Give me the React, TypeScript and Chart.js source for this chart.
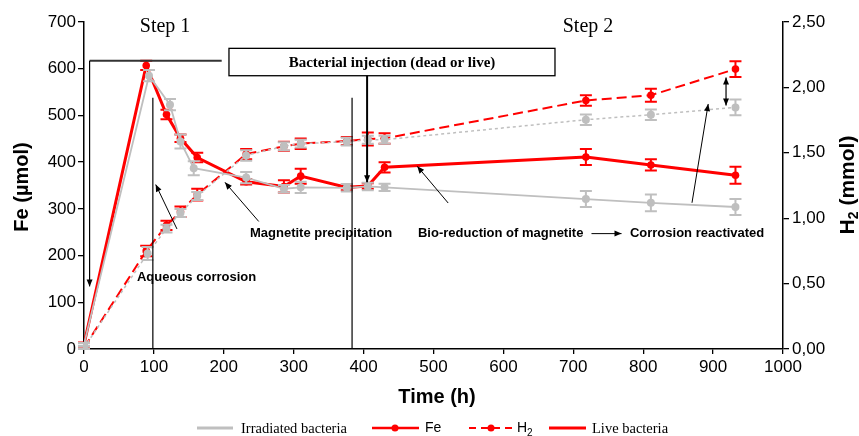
import React, { useEffect, useRef } from "react";
import { Chart, registerables } from "chart.js";
Chart.register(...registerables);

// ---- data ----
const liveTimes = [0, 89, 118, 138, 162, 232, 286, 310, 376, 406, 430, 718, 811, 932];
const liveFe = [10, 607, 502, 451, 410, 358, 348, 370, 346, 349, 389, 411, 394, 372];
const liveFeErr = [4, 10, 10, 8, 10, 6, 13, 16, 6, 6, 11, 17, 12, 18];
const liveH2 = [0.01, 0.75, 0.945, 1.05, 1.18, 1.49, 1.55, 1.57, 1.59, 1.605, 1.61, 1.9, 1.94, 2.14];
const liveH2Err = [0.01, 0.04, 0.035, 0.04, 0.045, 0.04, 0.035, 0.04, 0.03, 0.05, 0.04, 0.04, 0.05, 0.06];

const deadFeTimes = [0, 93, 123, 138, 157, 232, 286, 310, 376, 406, 430, 718, 811, 932];
const deadFe = [10, 585, 523, 444, 387, 367, 343, 346, 345, 348, 346, 321, 313, 304];
const deadFeErr = [3, 12, 12, 15, 15, 12, 8, 12, 8, 8, 8, 17, 18, 17];
const deadH2Times = [0, 91, 118, 138, 162, 232, 286, 310, 376, 406, 430, 718, 811, 932];
const deadH2 = [0.01, 0.73, 0.92, 1.04, 1.17, 1.48, 1.55, 1.57, 1.585, 1.6, 1.6, 1.753, 1.791, 1.847];
const deadH2Err = [0.01, 0.05, 0.03, 0.03, 0.03, 0.04, 0.03, 0.03, 0.03, 0.03, 0.03, 0.04, 0.04, 0.06];

const xTicks = { min: 0, max: 1000, step: 100 };
const feTicks = { min: 0, max: 700, step: 100 };
const h2Ticks = { min: 0, max: 2.5, step: 0.5 };

// annotation text / arrows in data coordinates (time h, Fe µmol)
const stepLabels = [
  { text: "Step 1", t: 116, fe: 690 },
  { text: "Step 2", t: 721, fe: 690 },
];
const noteLabels = [
  { text: "Aqueous corrosion", t: 75.8, fe: 153 },
  { text: "Magnetite precipitation", t: 237.5, fe: 247 },
  { text: "Bio-reduction of magnetite", t: 477.8, fe: 247 },
  { text: "Corrosion reactivated", t: 781, fe: 247 },
];
const noteArrows = [
  { t1: 133, f1: 257, t2: 102.6, f2: 352 },
  { t1: 250, f1: 273, t2: 201.7, f2: 356.7 },
  { t1: 521, f1: 312.5, t2: 476.8, f2: 391 },
  { t1: 869.8, f1: 313, t2: 893, f2: 524.5 },
  { t1: 726, f1: 247, t2: 769, f2: 247 },
];
const injectionBox = { t1: 207.4, t2: 673.8, f1: 585, f2: 643.6, text: "Bacterial injection (dead or live)" };
const injectionArrow = { t: 405, f1: 585, f2: 357 };
const bracket = { tEnd: 197, tStart: 8, fe: 617, feTip: 134 };
const stageLines = [
  { t: 98.5, top: 538 },
  { t: 383.5, top: 538 },
];
const diffArrow = { t: 918.5, f1: 581, f2: 521.5 };

const RED = "#ff0000";
const GRAY = "#bfbfbf";
const SANS = "'Liberation Sans', Arial, sans-serif";
const SERIF = "'Liberation Serif', 'Times New Roman', serif";

function arrowHead(ctx: CanvasRenderingContext2D, x1: number, y1: number, x2: number, y2: number, len = 7, half = 3) {
  const a = Math.atan2(y2 - y1, x2 - x1);
  ctx.beginPath();
  ctx.moveTo(x2, y2);
  ctx.lineTo(x2 - len * Math.cos(a) + half * Math.sin(a), y2 - len * Math.sin(a) - half * Math.cos(a));
  ctx.lineTo(x2 - len * Math.cos(a) - half * Math.sin(a), y2 - len * Math.sin(a) + half * Math.cos(a));
  ctx.closePath();
  ctx.fill();
}

function arrow(ctx: CanvasRenderingContext2D, x1: number, y1: number, x2: number, y2: number, lw = 1, both = false) {
  ctx.save();
  ctx.strokeStyle = "#000";
  ctx.fillStyle = "#000";
  ctx.lineWidth = lw;
  ctx.beginPath();
  ctx.moveTo(x1, y1);
  ctx.lineTo(x2, y2);
  ctx.stroke();
  arrowHead(ctx, x1, y1, x2, y2);
  if (both) arrowHead(ctx, x2, y2, x1, y1);
  ctx.restore();
}

const errors: Record<string, number[]> = {
  deadFe: deadFeErr,
  deadH2: deadH2Err,
  liveFe: liveFeErr,
  liveH2: liveH2Err,
};

const overlay = {
  id: "overlay",
  afterDatasetDraw(chart: any, args: any) {
    const ds = chart.data.datasets[args.index];
    const errs = errors[ds.label];
    if (!errs) return;
    const ys = chart.scales[ds.yAxisID];
    const ctx: CanvasRenderingContext2D = chart.ctx;
    ctx.save();
    ctx.strokeStyle = ds.borderColor;
    ctx.lineWidth = 2;
    ctx.setLineDash([]);
    args.meta.data.forEach((el: any, i: number) => {
      const v = ds.data[i].y;
      const top = ys.getPixelForValue(v + errs[i]);
      const bot = ys.getPixelForValue(v - errs[i]);
      ctx.beginPath();
      ctx.moveTo(el.x, top);
      ctx.lineTo(el.x, bot);
      ctx.moveTo(el.x - 6, top);
      ctx.lineTo(el.x + 6, top);
      ctx.moveTo(el.x - 6, bot);
      ctx.lineTo(el.x + 6, bot);
      ctx.stroke();
    });
    ctx.restore();
  },
  afterDraw(chart: any) {
    const ctx: CanvasRenderingContext2D = chart.ctx;
    const X = (t: number) => chart.scales.x.getPixelForValue(t);
    const Y = (f: number) => chart.scales.y.getPixelForValue(f);
    ctx.save();
    ctx.setLineDash([]);

    // stage vertical lines
    ctx.strokeStyle = "#000";
    ctx.lineWidth = 1.2;
    stageLines.forEach((l) => {
      ctx.beginPath();
      ctx.moveTo(X(l.t), Y(l.top));
      ctx.lineTo(X(l.t), Y(0));
      ctx.stroke();
    });

    // bracket from box to t=0
    ctx.strokeStyle = "#333";
    ctx.lineWidth = 2;
    ctx.beginPath();
    ctx.moveTo(X(bracket.tEnd), Y(bracket.fe));
    ctx.lineTo(X(bracket.tStart), Y(bracket.fe));
    ctx.stroke();
    arrow(ctx, X(bracket.tStart), Y(bracket.fe), X(bracket.tStart), Y(bracket.feTip), 1.2);

    // injection box
    const bx1 = X(injectionBox.t1), bx2 = X(injectionBox.t2);
    const by1 = Y(injectionBox.f2), by2 = Y(injectionBox.f1);
    ctx.fillStyle = "#fff";
    ctx.fillRect(bx1, by1, bx2 - bx1, by2 - by1);
    ctx.strokeStyle = "#000";
    ctx.lineWidth = 1.3;
    ctx.strokeRect(bx1, by1, bx2 - bx1, by2 - by1);
    ctx.fillStyle = "#000";
    ctx.font = `bold 15px ${SERIF}`;
    ctx.textAlign = "center";
    ctx.textBaseline = "middle";
    ctx.fillText(injectionBox.text, (bx1 + bx2) / 2, (by1 + by2) / 2 + 1);
    arrow(ctx, X(injectionArrow.t), Y(injectionArrow.f1), X(injectionArrow.t), Y(injectionArrow.f2), 2);

    // step labels
    ctx.font = `20px ${SERIF}`;
    stepLabels.forEach((s) => ctx.fillText(s.text, X(s.t), Y(s.fe)));

    // note labels
    ctx.font = `bold 13px ${SANS}`;
    ctx.textAlign = "left";
    noteLabels.forEach((s) => ctx.fillText(s.text, X(s.t), Y(s.fe)));
    noteArrows.forEach((a) => arrow(ctx, X(a.t1), Y(a.f1), X(a.t2), Y(a.f2), 1));
    arrow(ctx, X(diffArrow.t), Y(diffArrow.f1), X(diffArrow.t), Y(diffArrow.f2), 1.2, true);

    // axis titles
    ctx.font = `bold 20px ${SANS}`;
    ctx.textAlign = "center";
    ctx.fillText("Time (h)", 437, 397);
    ctx.save();
    ctx.translate(22, 187);
    ctx.rotate(-Math.PI / 2);
    ctx.fillText("Fe (µmol)", 0, 0);
    ctx.restore();
    ctx.save();
    ctx.translate(848, 185);
    ctx.rotate(-Math.PI / 2);
    ctx.font = `bold 21px ${SANS}`;
    const wH = ctx.measureText("H").width;
    const wRest = ctx.measureText(" (mmol)").width;
    ctx.font = `bold 14px ${SANS}`;
    const w2 = ctx.measureText("2").width;
    const total = wH + w2 + wRest;
    let cx = -total / 2;
    ctx.textAlign = "left";
    ctx.font = `bold 21px ${SANS}`;
    ctx.fillText("H", cx, 0);
    cx += wH;
    ctx.font = `bold 14px ${SANS}`;
    ctx.fillText("2", cx, 6);
    cx += w2;
    ctx.font = `bold 21px ${SANS}`;
    ctx.fillText(" (mmol)", cx, 0);
    ctx.restore();

    // legend
    const ly = 428;
    ctx.textAlign = "left";
    ctx.textBaseline = "middle";
    ctx.lineWidth = 3;
    ctx.strokeStyle = GRAY;
    ctx.beginPath();
    ctx.moveTo(197, ly);
    ctx.lineTo(233, ly);
    ctx.stroke();
    ctx.fillStyle = "#000";
    ctx.font = `14.5px ${SERIF}`;
    ctx.fillText("Irradiated bacteria", 241, ly + 1);

    ctx.strokeStyle = RED;
    ctx.fillStyle = RED;
    ctx.lineWidth = 2.5;
    ctx.beginPath();
    ctx.moveTo(372, ly);
    ctx.lineTo(419, ly);
    ctx.stroke();
    ctx.beginPath();
    ctx.arc(395, ly, 3.5, 0, Math.PI * 2);
    ctx.fill();
    ctx.fillStyle = "#000";
    ctx.font = `14px ${SANS}`;
    ctx.fillText("Fe", 425, ly);

    ctx.strokeStyle = RED;
    ctx.fillStyle = RED;
    ctx.lineWidth = 2;
    ctx.setLineDash([7, 5]);
    ctx.beginPath();
    ctx.moveTo(469, ly);
    ctx.lineTo(514, ly);
    ctx.stroke();
    ctx.setLineDash([]);
    ctx.beginPath();
    ctx.arc(491, ly, 3.5, 0, Math.PI * 2);
    ctx.fill();
    ctx.fillStyle = "#000";
    ctx.font = `14px ${SANS}`;
    ctx.fillText("H", 517, ly);
    const hw = ctx.measureText("H").width;
    ctx.font = `10px ${SANS}`;
    ctx.fillText("2", 517 + hw, ly + 5);

    ctx.strokeStyle = RED;
    ctx.lineWidth = 3;
    ctx.beginPath();
    ctx.moveTo(549, ly);
    ctx.lineTo(586, ly);
    ctx.stroke();
    ctx.fillStyle = "#000";
    ctx.font = `14.5px ${SERIF}`;
    ctx.fillText("Live bacteria", 592, ly + 1);

    ctx.restore();
  },
};

const pts = (ts: number[], vs: number[]) => ts.map((t, i) => ({ x: t, y: vs[i] }));

export default function App() {
  const ref = useRef<HTMLCanvasElement | null>(null);
  useEffect(() => {
    if (!ref.current) return;
    const axisFont = { family: SANS, size: 17 };
    const gridCommon = { drawOnChartArea: false, drawTicks: true, color: "#000", lineWidth: 1.3 };
    const chart = new Chart(ref.current, {
      type: "line",
      data: {
        datasets: [
          {
            label: "deadFe",
            data: pts(deadFeTimes, deadFe),
            yAxisID: "y",
            borderColor: GRAY,
            backgroundColor: GRAY,
            borderWidth: 1.8,
            pointRadius: 4,
            pointBorderWidth: 0,
            pointBackgroundColor: GRAY,
          },
          {
            label: "deadH2",
            data: pts(deadH2Times, deadH2),
            yAxisID: "y1",
            borderColor: GRAY,
            backgroundColor: GRAY,
            borderWidth: 1.5,
            borderDash: [3, 3],
            pointRadius: 4,
            pointBorderWidth: 0,
            pointBackgroundColor: GRAY,
          },
          {
            label: "liveFe",
            data: pts(liveTimes, liveFe),
            yAxisID: "y",
            borderColor: RED,
            backgroundColor: RED,
            borderWidth: 3,
            pointRadius: 3.8,
            pointBorderWidth: 0,
            pointBackgroundColor: RED,
          },
          {
            label: "liveH2",
            data: pts(liveTimes, liveH2),
            yAxisID: "y1",
            borderColor: RED,
            backgroundColor: RED,
            borderWidth: 2,
            borderDash: [10, 5],
            pointRadius: 3.8,
            pointBorderWidth: 0,
            pointBackgroundColor: RED,
          },
        ],
      },
      options: {
        responsive: false,
        animation: false,
        layout: { padding: { top: 22, left: 0, right: 0, bottom: 0 } },
        plugins: { legend: { display: false }, tooltip: { enabled: false } },
        elements: { line: { tension: 0 } },
        scales: {
          x: {
            type: "linear",
            min: xTicks.min,
            max: xTicks.max,
            ticks: {
              stepSize: xTicks.step,
              font: axisFont,
              color: "#000",
              padding: 3,
              maxRotation: 0,
              callback: (v: any) => String(Math.round(Number(v))),
            },
            grid: { ...gridCommon, tickLength: 5 },
            border: { display: true, color: "#000", width: 1.5 },
            afterFit: (s: any) => {
              s.height = 87;
            },
          },
          y: {
            type: "linear",
            position: "left",
            min: feTicks.min,
            max: feTicks.max,
            ticks: {
              stepSize: feTicks.step,
              font: axisFont,
              color: "#000",
              padding: 2,
              callback: (v: any) => String(Math.round(Number(v))),
            },
            grid: { ...gridCommon, tickLength: 6 },
            border: { display: true, color: "#000", width: 1.5 },
            afterFit: (s: any) => {
              s.width = 84;
            },
          },
          y1: {
            type: "linear",
            position: "right",
            min: h2Ticks.min,
            max: h2Ticks.max,
            ticks: {
              stepSize: h2Ticks.step,
              font: axisFont,
              color: "#000",
              padding: 3,
              callback: (v: any) => Number(v).toFixed(2).replace(".", ","),
            },
            grid: { ...gridCommon, tickLength: 6 },
            border: { display: true, color: "#000", width: 1.5 },
            afterFit: (s: any) => {
              s.width = 76;
            },
          },
        },
      },
      plugins: [overlay],
    } as any);
    return () => chart.destroy();
  }, []);
  return (
    <div style={{ position: "absolute", left: 0, top: 0, width: 859, height: 436, background: "#fff" }}>
      <canvas ref={ref} width={859} height={436} style={{ display: "block" }} />
    </div>
  );
}
